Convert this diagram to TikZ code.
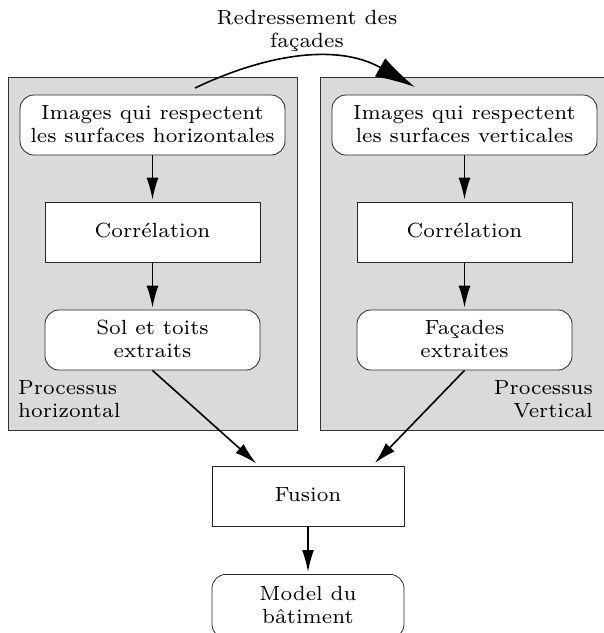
\documentclass[tikz,border=0pt]{standalone}
\usepackage{graphicx}
\usetikzlibrary{arrows.meta,calc}
\definecolor{panelgray}{RGB}{217,218,220}
\newcommand\txtc[1]{\raisebox{-1pt}[\height][\depth]{\scalebox{2.93}{\fontsize{7}{7.9}\selectfont\begin{tabular}{@{}c@{}}#1\end{tabular}}}}
\newcommand\txtl[1]{\raisebox{-1pt}[\height][\depth]{\scalebox{2.93}{\fontsize{7}{7.9}\selectfont\begin{tabular}{@{}l@{}}#1\end{tabular}}}}
\newcommand\txtr[1]{\raisebox{-1pt}[\height][\depth]{\scalebox{2.93}{\fontsize{7}{7.9}\selectfont\begin{tabular}{@{}r@{}}#1\end{tabular}}}}
\begin{document}
\begin{tikzpicture}[x=1pt,y=-1pt,
  panel/.style={draw=black!80,line width=0.8pt,fill=panelgray},
  rbox/.style={draw=black!85,line width=0.8pt,fill=white,rounded corners=14pt,inner sep=0pt},
  sbox/.style={draw=black!85,line width=0.8pt,fill=white,inner sep=0pt},
  flow/.style={line width=1.6pt,shorten >=2pt,-{Latex[length=22pt,width=12pt]}},
  bigflow/.style={line width=1.6pt,-{Latex[length=40pt,width=21pt]}},
  lbl/.style={inner sep=0pt}]
\useasboundingbox (0,0) rectangle (604,633);
\path[panel] (8,77) rectangle (297,430);
\path[panel] (320,77) rectangle (612,430);
\node[rbox,minimum width=265pt,minimum height=60pt] (tl) at (152.5,125) {\txtc{Images qui respectent\\les surfaces horizontales}};
\node[sbox,minimum width=215pt,minimum height=60pt] (cl) at (152.5,232) {\txtc{Corrélation}};
\node[rbox,minimum width=215pt,minimum height=60pt] (sl) at (152.5,340) {\txtc{Sol et toits\\extraits}};
\node[rbox,minimum width=265pt,minimum height=60pt] (tr) at (464.5,125) {\txtc{Images qui respectent\\les surfaces verticales}};
\node[sbox,minimum width=215pt,minimum height=60pt] (cr) at (464.5,232) {\txtc{Corrélation}};
\node[rbox,minimum width=215pt,minimum height=60pt] (sr) at (464.5,340) {\txtc{Façades\\extraites}};
\node[sbox,minimum width=192pt,minimum height=60pt] (fu) at (308,496) {\txtc{Fusion}};
\node[rbox,minimum width=192pt,minimum height=64pt,anchor=north] (mo) at (308,574) {\txtc{Model du\\bâtiment}};
\node[lbl] (rl) at (307,30) {\txtc{Redressement des\\façades}};
\node[lbl,anchor=west] (ph) at (18,400) {\txtl{Processus\\horizontal}};
\node[lbl,anchor=east] (pv) at (593,400) {\txtr{Processus\\Vertical}};
\coordinate (cs) at (195,88);
\coordinate (ce) at (415,87);
\draw[flow] (tl) -- (cl);
\draw[flow] (cl) -- (sl);
\draw[flow] (tr) -- (cr);
\draw[flow] (cr) -- (sr);
\draw[flow] (sl.south) -- ($(fu.north west)+(46,-1)$);
\draw[flow] (sr.south) -- ($(fu.north east)+(-31,-1)$);
\draw[flow] (fu) -- (mo);
\draw[bigflow] (cs) .. controls (262,56) and (335,42) .. (ce);
\end{tikzpicture}
\end{document}
